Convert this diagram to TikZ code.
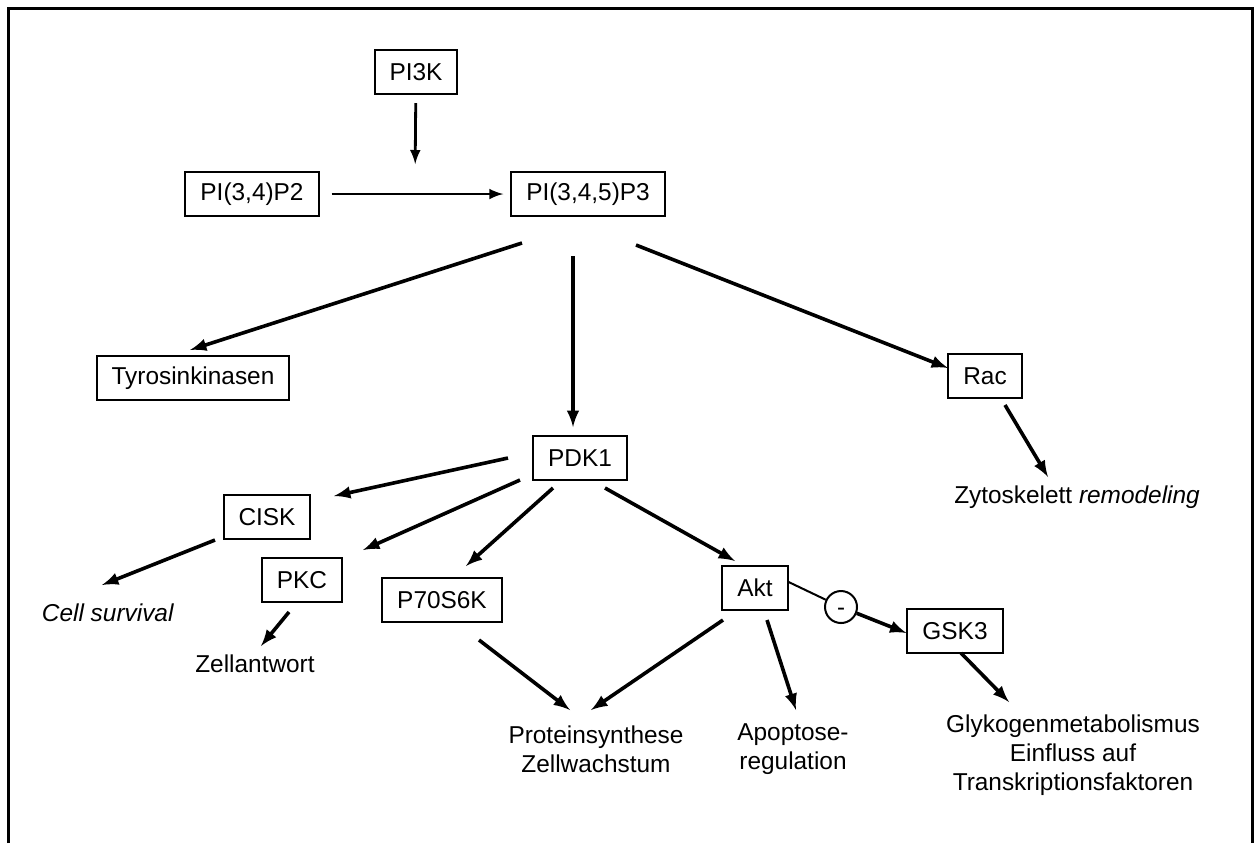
\documentclass[tikz,border=0pt]{standalone}
\usepackage{fontspec}
\setmainfont{Liberation Sans}
\usetikzlibrary{arrows,calc}
\tikzset{
  box/.style={draw,line width=1pt,inner xsep=7.5pt,inner ysep=0pt,minimum height=22pt,font=\fontsize{12.2}{14.5}\selectfont},
  lbl/.style={align=center,inner sep=0pt,font=\fontsize{12.2}{14.5}\selectfont},
  thin arrow/.style={->,line width=1.4pt},
}
\newcommand{\arr}[4]{\draw[->] ([shift={#2}]#1.center) -- ([shift={#4}]#3.center);}

\begin{document}
\begin{tikzpicture}[x=0.5pt,y=-0.5pt,>=latex,line width=1.8pt]
  \useasboundingbox (0,0) rectangle (1256,843);
  \draw[line width=1.5pt] (8,843) -- (8,8) -- (1252,8) -- (1252,843);

  \node[box] (pi3k) at (416,72) {PI3K};
  \node[box] (pip2) at (252,194) {PI(3,4)P2};
  \node[box] (pip3) at (588,194) {PI(3,4,5)P3};
  \node[box] (tyro) at (193,378) {Tyrosinkinasen};
  \node[box] (rac) at (985,376) {Rac};
  \node[box] (pdk1) at (580,458) {PDK1};
  \node[box] (cisk) at (267,517) {CISK};
  \node[box] (pkc) at (302,580) {PKC};
  \node[box] (p70) at (442,600) {P70S6K};
  \node[box] (akt) at (755,588) {Akt};
  \node[box] (gsk3) at (955,631) {GSK3};
  \node[draw,circle,line width=1pt,minimum size=16pt,inner sep=0pt,text height=8pt,text depth=0pt,font=\fontsize{12}{12}\selectfont] (inh) at (841,607) {-};

  \node[lbl] (zyto) at (1077,497) {Zytoskelett \textit{remodeling}};
  \node[lbl] (cell) at (108,613) {\textit{Cell survival}};
  \node[lbl] (zell) at (255,664) {Zellantwort};
  \node[lbl] (prot) at (596,749) {Proteinsynthese\\Zellwachstum};
  \node[lbl] (apop) at (793,749) {Apoptose-\\regulation};
  \node[lbl] (glyk) at (1073,755) {Glykogenmetabolismus\\Einfluss auf\\Transkriptionsfaktoren};

  \coordinate (mid) at ($(pip2.east)!0.5!(pip3.west)$);
  \draw[thin arrow,shorten <=4pt,shorten >=15pt] (pi3k) -- (mid);
  \draw[thin arrow,shorten <=6pt,shorten >=3.5pt] (pip2) -- (pip3);

  \arr{pip3}{(-66,49)}{tyro}{(-3,-28)}
  \arr{pip3}{(-15,62)}{pdk1}{(-7,-31)}
  \arr{pip3}{(48,51)}{rac}{(-37,-8)}
  \arr{rac}{(20,29)}{zyto}{(-29,-20)}
  \arr{pdk1}{(-72,0)}{cisk}{(67,-21)}
  \arr{pdk1}{(-60,22)}{pkc}{(61,-30)}
  \arr{pdk1}{(-27,30)}{p70}{(24,-34)}
  \arr{pdk1}{(25,30)}{akt}{(-20,-27)}
  \arr{cisk}{(-52,23)}{cell}{(-6,-28)}
  \arr{pkc}{(-13,32)}{zell}{(6,-18)}
  \arr{p70}{(37,40)}{prot}{(-26,-39)}
  \arr{akt}{(-32,32)}{prot}{(-5,-39)}
  \arr{akt}{(12,32)}{apop}{(3,-39)}
  \arr{gsk3}{(6,22)}{glyk}{(-64,-53)}
  \draw[line width=1pt] ([yshift=3pt]akt.east) -- (inh);
  \draw[->] (inh) -- ([yshift=-1pt]gsk3.west);
\end{tikzpicture}
\end{document}
